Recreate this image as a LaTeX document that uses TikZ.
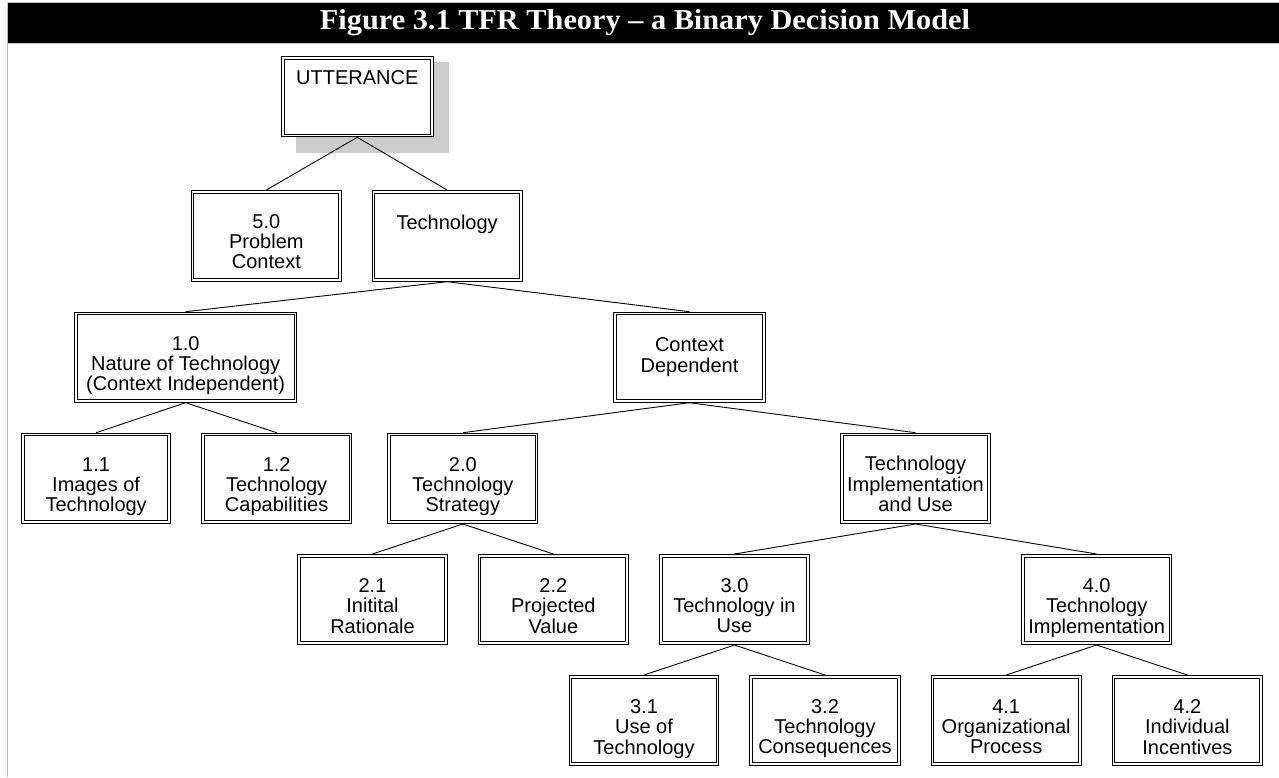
\documentclass[tikz,border=0pt]{standalone}
\usepackage{fontspec}
\usepackage{graphicx}
\setmainfont{Liberation Sans}
\newfontfamily\titlefont{Liberation Serif}
\definecolor{framegray}{HTML}{C0C0C0}
\definecolor{shadowgray}{HTML}{CCCCCC}
\newcommand\bt[1]{\begin{tabular}[t]{@{}c@{}}#1\end{tabular}}
\newcommand\mkbox[7]{%
  \pgfmathsetmacro\mkW{#4-#2-3.6}%
  \pgfmathsetmacro\mkH{#5-#3-3.6}%
  \pgfmathsetmacro\mkT{#6-1.8}%
  \pgfmathsetmacro\mkD{#5-#3-3.6-(#6-1.8)}%
  \node[bx, minimum width=\mkW pt, minimum height=\mkH pt,
        text height=\mkT pt, text depth=\mkD pt]
        (#1) at ({(#2+#4)/2},{(#3+#5)/2}) {\bt{#7}};}
\tikzset{
  bx/.style={draw=black, double=white, double distance=1.8pt, line width=0.9pt,
             inner sep=0pt, outer sep=1.8pt, fill=white,
             font=\fontsize{20}{20}\selectfont},
  conn/.style={draw=black, line width=0.9pt},
}
\begin{document}
\begin{tikzpicture}[x=1pt,y=-1pt]
\useasboundingbox (0,0) rectangle (1279,777);
% frame and header
\fill[framegray] (7,2) rectangle (1279,44.3);
\fill[black] (8.3,3.3) rectangle (1279,42.7);
\fill[framegray] (7,2) rectangle (8.3,777);
\node[anchor=base, inner sep=0pt, text=white] (title) at (645,29.3)
  {\resizebox{650pt}{20pt}{\titlefont\bfseries Figure 3.1 TFR Theory – a Binary Decision Model}};
% shadow of top box
\fill[shadowgray] (296,61.7) rectangle (449,152.7);
% boxes
\mkbox{utt}{281}{56}{433.5}{137.3}{28.3}{UTTERANCE}
\mkbox{p50}{190.7}{190}{342}{281.7}{38.3}{5.0\\Problem\\Context}
\mkbox{tech}{371.7}{190}{522.5}{281.7}{39.5}{Technology}
\mkbox{p10}{74}{311.7}{297.3}{402.7}{38.3}{1.0\\Nature of Technology\\(Context Independent)}
\mkbox{cd}{613.3}{311.7}{765.7}{402.7}{40}{Context\\Dependent}
\mkbox{p11}{21.3}{432.7}{171}{524}{38.3}{1.1\\Images of\\Technology}
\mkbox{p12}{201}{432.7}{352.3}{524}{38.3}{1.2\\Technology\\Capabilities}
\mkbox{p20}{387.3}{432.7}{538.3}{524}{38.3}{2.0\\Technology\\Strategy}
\mkbox{tiu}{840}{432.7}{991}{524}{38}{Technology\\Implementation\\and Use}
\mkbox{p21}{297}{554}{448}{645}{38.3}{2.1\\Initital\\Rationale}
\mkbox{p22}{477.7}{554}{629}{645}{38.3}{2.2\\Projected\\Value}
\mkbox{p30}{659}{554}{810}{645}{38.3}{3.0\\Technology in\\Use}
\mkbox{p40}{1021}{554}{1172.3}{645}{38.3}{4.0\\Technology\\Implementation}
\mkbox{p31}{568.7}{675}{719.3}{766}{38.3}{3.1\\Use of\\Technology}
\mkbox{p32}{749.3}{675}{900.7}{766}{38.3}{3.2\\Technology\\Consequences}
\mkbox{p41}{930.7}{675}{1081.7}{766}{38.3}{4.1\\Organizational\\Process}
\mkbox{p42}{1111.7}{675}{1263}{766}{38.3}{4.2\\Individual\\Incentives}
% connectors
\draw[conn] (utt.south) -- (p50.north);
\draw[conn] (utt.south) -- (tech.north);
\draw[conn] (tech.south) -- (p10.north);
\draw[conn] (tech.south) -- (cd.north);
\draw[conn] (p10.south) -- (p11.north);
\draw[conn] (p10.south) -- (p12.north);
\draw[conn] (cd.south) -- (p20.north);
\draw[conn] (cd.south) -- (tiu.north);
\draw[conn] (p20.south) -- (p21.north);
\draw[conn] (p20.south) -- (p22.north);
\draw[conn] (tiu.south) -- (p30.north);
\draw[conn] (tiu.south) -- (p40.north);
\draw[conn] (p30.south) -- (p31.north);
\draw[conn] (p30.south) -- (p32.north);
\draw[conn] (p40.south) -- (p41.north);
\draw[conn] (p40.south) -- (p42.north);
\end{tikzpicture}
\end{document}
